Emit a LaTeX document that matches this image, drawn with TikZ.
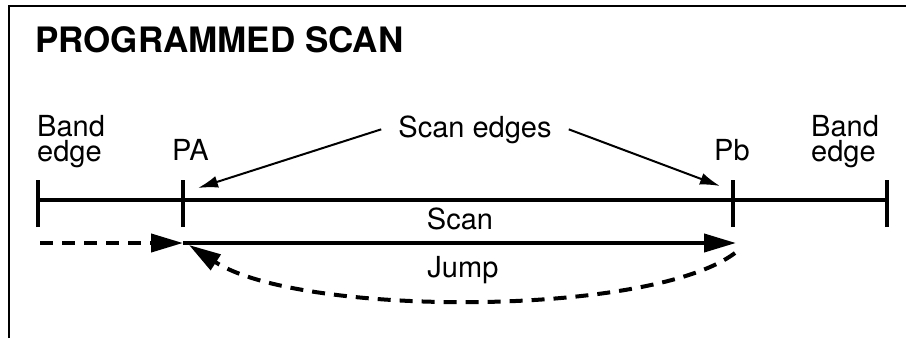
\documentclass[tikz,border=0pt]{standalone}
\usepackage{fontspec}
\setmainfont{TeX Gyre Heros}
\usetikzlibrary{arrows.meta}
\begin{document}
\begin{tikzpicture}[x=1pt,y=-1pt,
  lbl/.style={inner sep=0pt,font=\fontsize{29}{25}\selectfont},
  tick/.style={line width=4pt},
  pointer/.style={line width=2pt,-{Latex[length=20pt,width=12pt]}},
  dsh/.style={line width=4pt,dash pattern=on 13pt off 9pt},
  bigtip/.style={-{Triangle[length=32pt,width=18pt]}}]
\useasboundingbox (0,0) rectangle (906,338);
% frame
\draw[line width=2pt] (9,338) -- (9,6) -- (906,6);
% title
\node[inner sep=0pt,anchor=base west,font=\fontsize{35}{40}\selectfont\bfseries] (title) at (35,52) {PROGRAMMED SCAN};
% labels
\node[lbl,anchor=north west,align=left] (bl) at (37,115) {Band\\edge};
\node[lbl,anchor=north west,align=left] (br) at (811,115) {Band\\edge};
\node[lbl,anchor=base west] (pa) at (172,160) {PA};
\node[lbl,anchor=base west] (pb) at (714,160) {Pb};
\node[lbl,anchor=base,inner xsep=17pt] (se) at (475,137) {Scan edges};
\node[lbl,anchor=base] (scan) at (460,229) {Scan};
\node[lbl,anchor=base] (jump) at (463,277) {Jump};
% band line
\coordinate (L) at (38,200);
\coordinate (A) at (183,200);
\coordinate (B) at (733,200);
\coordinate (R) at (887,200);
\draw[line width=3.5pt] (L) -- (R);
\foreach \c in {L,A,B,R} \draw[tick] ([yshift=-27pt]\c) -- ([yshift=20pt]\c);
% scan edge pointers
\coordinate (pat) at (198,188);
\coordinate (pbt) at (720,186);
\draw[pointer] (se.west) -- (pat);
\draw[pointer] (se.east) -- (pbt);
% scan arrow
\coordinate (s0) at (183,243);
\coordinate (s1) at (736,243);
\coordinate (d0) at (40,243);
\coordinate (j0) at (735,253);
\coordinate (j1) at (189,245);
\draw[line width=4pt,bigtip] (s0) -- (s1);
\draw[dsh,bigtip] (d0) -- (s0);
\draw[dsh,bigtip] (j0) .. controls (650,317) and (300,317) .. (j1);
\end{tikzpicture}
\end{document}
